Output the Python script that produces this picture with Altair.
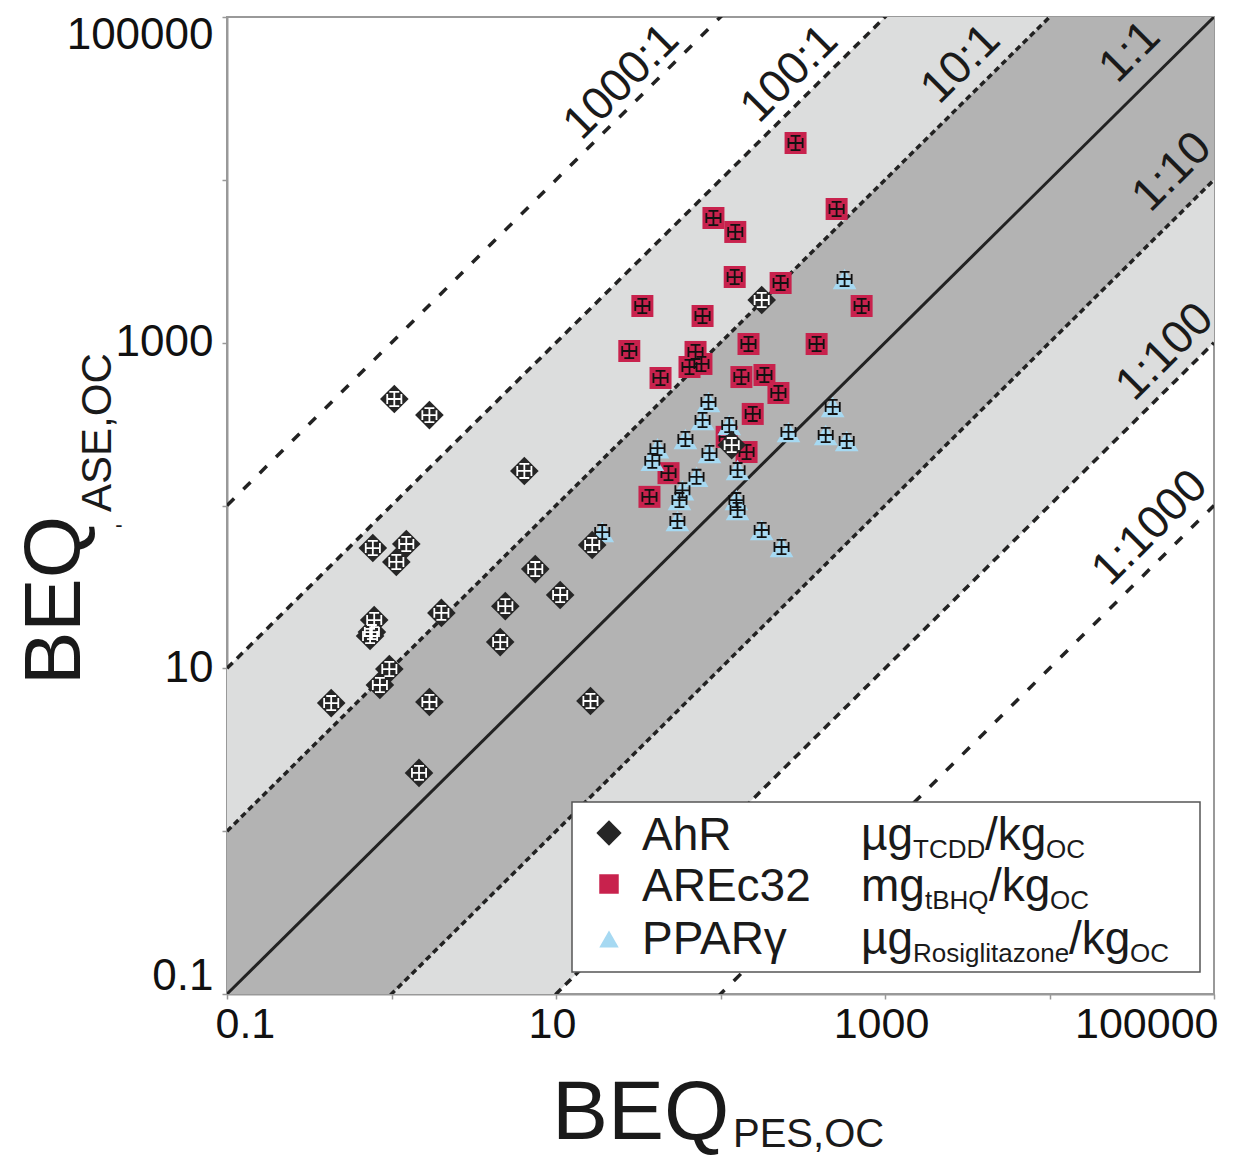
import altair as alt
import pandas as pd

FONT = "Liberation Sans"

# ---------------- data ----------------
AHR_X = [1.04, 1.70, 6.42, 0.77, 1.23, 1.07, 0.785, 0.741, 0.76, 0.97, 0.85, 0.43,
         2.01, 1.70, 1.47, 4.92, 7.48, 10.6, 4.58, 16.6, 16.2, 178, 117]
AHR_Y = [451, 359, 163, 54.8, 58.0, 45.0, 19.8, 15.8, 16.7, 9.9, 7.9, 6.12,
         21.9, 6.21, 2.28, 24.1, 40.7, 28.2, 14.5, 57.2, 6.30, 1828, 235]

ARE_X = [286, 508, 90.6, 123, 122, 232, 33.5, 77.8, 721, 27.9, 148, 384,
         70.5, 64.8, 76.6, 43.2, 134, 185, 225, 157, 109, 144, 48.3, 37.0]
ARE_Y = [16830, 6620, 5830, 4785, 2530, 2325, 1680, 1458, 1680, 889, 981, 981,
         877, 709, 740, 607, 615, 633, 491, 365, 264, 213, 158, 113]

PPAR_X = [84.5, 77.8, 113, 61.2, 41.4, 38.5, 85.7, 71.5, 127, 58.7, 56.3, 54.7,
          125, 127, 178, 235, 259, 481, 436, 585, 19.1, 568]
PPAR_Y = [432, 335, 312, 256, 225, 188, 210, 150, 165, 124, 108, 80.3,
          108, 93.8, 70.7, 55.6, 283, 403, 271, 249, 68.7, 2460]

DECADES = [0.1, 1, 10, 100, 1000, 10000, 100000]

RATIOS = [1000, 100, 10, 1, 0.1, 0.01, 0.001]
RATIO_DASH = {1000: [10, 13], 100: [8, 6], 10: [6, 4], 1: None,
              0.1: [6, 4], 0.01: [8, 6], 0.001: [10, 13]}
LINE_LABELS = ["1000:1", "100:1", "10:1", "1:1", "1:10", "1:100", "1:1000"]
LABEL_X = [25.0, 263, 2890, 30800, 55600, 50300, 40800]
LABEL_Y = [39900, 44700, 51400, 61000, 11170, 877, 72.8]

X_ENDS = [0.1, 100000]

# ---------------- helpers ----------------
label_expr = ("(datum.value == 0.1) ? '0.1' : ((datum.value == 10 || datum.value == 1000 || "
              "datum.value == 100000) ? format(datum.value, 'd') : '')")

def xaxis():
    return alt.Axis(values=DECADES, labelExpr=label_expr, title=None, grid=False,
                    tickSize=5, tickWidth=1.5, tickColor="#999", domainColor="#999",
                    domainWidth=2, labelFontSize=43, labelFont=FONT, labelColor="#111",
                    labelPadding=4, labelFlush=True, labelFlushOffset=8, labelOffset=-4)

def yaxis():
    return alt.Axis(values=DECADES, labelExpr=label_expr, title=None, grid=False,
                    tickSize=5, tickWidth=1.5, tickColor="#999", domainColor="#999",
                    domainWidth=2, labelFontSize=44, labelFont=FONT, labelColor="#111",
                    labelPadding=9, labelFlush=True, labelFlushOffset=4)

XS = alt.Scale(type="log", domain=[0.1, 100000], nice=False)
YS = alt.Scale(type="log", domain=[0.1, 100000], nice=False)

def X(f="x"):
    return alt.X(f"{f}:Q", scale=XS, axis=xaxis())

def Y(f="y"):
    return alt.Y(f"{f}:Q", scale=YS, axis=yaxis())

dummy = pd.DataFrame({"a": [0]})

def txt(s, x, y, size, angle=0, align="left", baseline="alphabetic", color="#1a1a1a"):
    return alt.Chart(dummy).mark_text(
        fontSize=size, align=align, baseline=baseline, angle=angle, color=color, font=FONT
    ).encode(x=alt.value(x), y=alt.value(y), text=alt.value(s))

# ---------------- bands ----------------
band_rows = []
for xv in X_ENDS:
    band_rows.append({"x": xv, "y": xv * 0.01, "y2": xv * 100, "band": "light"})
    band_rows.append({"x": xv, "y": xv * 0.1, "y2": xv * 10, "band": "dark"})
bands = pd.DataFrame(band_rows)

light = alt.Chart(bands[bands.band == "light"]).mark_area(
    clip=True, color="#dcdddd", opacity=1
).encode(x=X(), y=Y(), y2="y2:Q")
dark = alt.Chart(bands[bands.band == "dark"]).mark_area(
    clip=True, color="#b3b3b3", opacity=1
).encode(x=X(), y=Y(), y2="y2:Q")

# ---------------- ratio lines ----------------
line_layers = []
for r in RATIOS:
    df = pd.DataFrame({"x": X_ENDS, "y": [v * r for v in X_ENDS]})
    dash = RATIO_DASH[r]
    if dash is None:
        m = alt.Chart(df).mark_line(clip=True, color="#222", strokeWidth=3)
    else:
        m = alt.Chart(df).mark_line(clip=True, color="#222", strokeWidth=3.5, strokeDash=dash)
    line_layers.append(m.encode(x=X(), y=Y()))

lab_df = pd.DataFrame({"x": LABEL_X, "y": LABEL_Y, "label": LINE_LABELS})
line_labels = alt.Chart(lab_df).mark_text(
    angle=315, fontSize=46, font=FONT, color="#1a1a1a", align="center", baseline="middle"
).encode(x=X(), y=Y(), text="label:N")

# ---------------- points ----------------
ahr = pd.DataFrame({"x": AHR_X, "y": AHR_Y})
are = pd.DataFrame({"x": ARE_X, "y": ARE_Y})
ppar = pd.DataFrame({"x": PPAR_X, "y": PPAR_Y})

# error-bar glyph: horizontal + vertical bar with end caps
GLYPH = ("M-1,0L1,0M0,-1L0,1M-1,-0.7L-1,0.7M1,-0.7L1,0.7"
         "M-0.7,-1L0.7,-1M-0.7,1L0.7,1")

def markers(df, shape, size, color):
    return alt.Chart(df).mark_point(shape=shape, size=size, filled=True, opacity=1,
                                    color=color, strokeWidth=0).encode(x=X(), y=Y())

def glyphs(df, color):
    return alt.Chart(df).mark_point(shape=GLYPH, size=200, filled=False, opacity=1,
                                    color=color, strokeWidth=1.8).encode(x=X(), y=Y())

RED = "#c8224d"
BLUE = "#a6d9f2"
BLACK = "#262626"

pts = [
    markers(are, "square", 484, RED), glyphs(are, "#111"),
    markers(ppar, "triangle-up", 560, BLUE), glyphs(ppar, "#111"),
    markers(ahr, "diamond", 820, BLACK), glyphs(ahr, "white"),
]

# ---------------- legend (manual, for subscripts) ----------------
legend_box = alt.Chart(dummy).mark_rect(fill="white", stroke="#555", strokeWidth=1.5).encode(
    x=alt.value(345), x2=alt.value(973), y=alt.value(785), y2=alt.value(955))

def lsym(shape, size, color, y):
    return alt.Chart(dummy).mark_point(shape=shape, size=size, filled=True, opacity=1,
                                       color=color, strokeWidth=0).encode(
        x=alt.value(382), y=alt.value(y))

ROWS = [816, 867, 920]
BASE = [r + 17 for r in ROWS]
LS, SS, SUBD = 46, 26, 8
legend = [
    legend_box,
    lsym("diamond", 640, BLACK, ROWS[0]),
    lsym("square", 380, RED, ROWS[1]),
    lsym("triangle-up", 380, BLUE, ROWS[2] + 2),
    txt("AhR", 415, BASE[0], LS), txt("AREc32", 415, BASE[1], LS), txt("PPARγ", 415, BASE[2], LS),
    txt("µg", 634, BASE[0], LS), txt("TCDD", 686, BASE[0] + SUBD, SS),
    txt("/kg", 758, BASE[0], LS), txt("OC", 819, BASE[0] + SUBD, SS),
    txt("mg", 634, BASE[1], LS), txt("tBHQ", 698, BASE[1] + SUBD, SS),
    txt("/kg", 762, BASE[1], LS), txt("OC", 823, BASE[1] + SUBD, SS),
    txt("µg", 634, BASE[2], LS), txt("Rosiglitazone", 686, BASE[2] + SUBD, SS),
    txt("/kg", 842, BASE[2], LS), txt("OC", 903, BASE[2] + SUBD, SS),
]

# ---------------- axis titles (with subscripts) ----------------
titles = [
    txt("BEQ", 325, 1122, 84),
    txt("PES,OC", 506, 1130, 40),
    txt("BEQ", -147, 668, 80, angle=270),
    txt("ASE,OC", -116, 495, 42, angle=270),
    txt("-", -108, 508, 22, align="center", baseline="middle"),
]

chart = alt.layer(
    light, dark, *line_layers, line_labels, *pts, *legend, *titles
).properties(
    width=987, height=977,
    padding={"left": 219, "top": 9, "right": 15, "bottom": 163},
    autosize=alt.AutoSizeParams(type="none"),
    background="white",
).configure_view(stroke="#999", strokeWidth=2)

chart.save("out.html", embed_options={"renderer": "svg", "actions": False})
